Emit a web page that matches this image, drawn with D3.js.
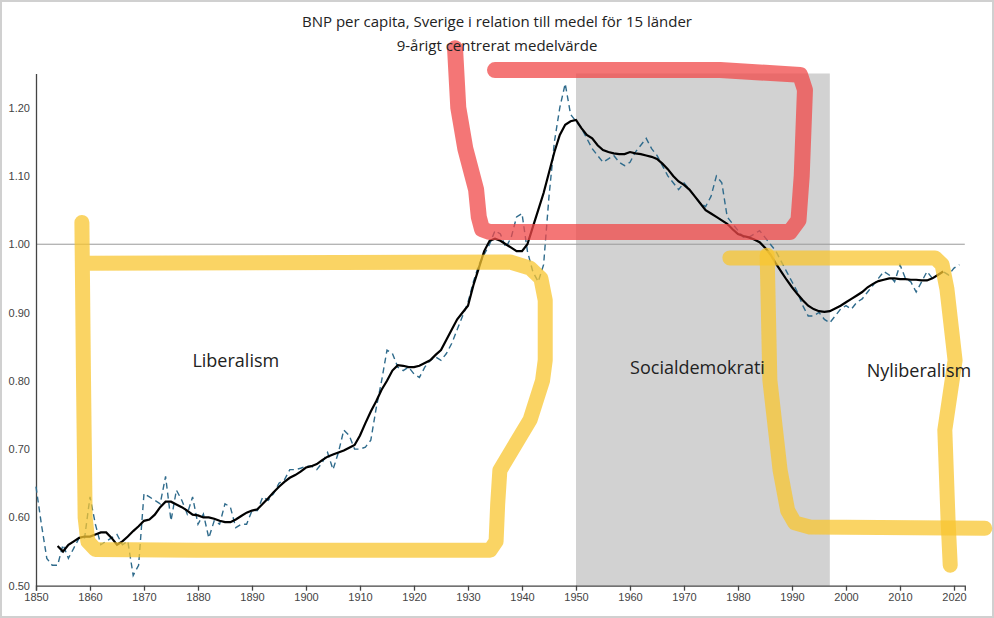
<!DOCTYPE html>
<html><head><meta charset="utf-8">
<script src="https://cdn.jsdelivr.net/npm/d3@7"></script>
<style>body{margin:0;background:#fff}svg{font-family:"Open Sans",Arial,sans-serif}</style>
</head><body><div id="container"></div>
<script>
// yearly values (dashed) 1850-2021
var rawStart = 1850;
var rawValues = [0.645,0.59,0.54,0.53,0.53,0.56,0.54,0.555,0.57,0.57,
 0.63,0.59,0.56,0.565,0.57,0.575,0.56,0.565,0.515,0.53,
 0.635,0.63,0.625,0.62,0.66,0.595,0.64,0.625,0.605,0.63,
 0.59,0.605,0.57,0.595,0.59,0.62,0.615,0.585,0.59,0.59,
 0.61,0.61,0.63,0.625,0.635,0.65,0.655,0.67,0.67,0.672,
 0.675,0.675,0.67,0.68,0.695,0.67,0.695,0.728,0.72,0.70,
 0.70,0.703,0.713,0.76,0.80,0.845,0.84,0.82,0.815,0.82,
 0.81,0.805,0.82,0.83,0.835,0.83,0.84,0.855,0.875,0.895,
 0.915,0.945,0.97,0.985,1.0,1.02,1.015,0.995,1.01,1.04,
 1.045,0.99,0.96,0.945,0.97,1.07,1.15,1.2,1.235,1.19,
 1.18,1.17,1.155,1.14,1.13,1.12,1.125,1.13,1.12,1.115,
 1.12,1.135,1.145,1.155,1.14,1.13,1.115,1.10,1.09,1.08,
 1.09,1.08,1.07,1.06,1.055,1.07,1.10,1.09,1.04,1.03,
 1.02,1.01,1.01,1.015,1.02,1.01,1.0,0.99,0.975,0.96,
 0.945,0.93,0.91,0.895,0.895,0.9,0.89,0.885,0.895,0.905,
 0.91,0.905,0.915,0.92,0.93,0.94,0.95,0.96,0.955,0.945,
 0.97,0.95,0.945,0.93,0.945,0.96,0.95,0.955,0.96,0.955,
 0.965,0.97];
// 9-year centred mean 1854-2018
var smoothStart = 1854;
var smoothValues = [0.558,0.55,0.56,0.565,0.57,0.572,
 0.572,0.575,0.578,0.578,0.57,0.56,0.565,0.572,0.58,0.587,
 0.595,0.597,0.604,0.615,0.623,0.623,0.619,0.615,0.61,0.604,
 0.603,0.6,0.6,0.598,0.595,0.593,0.593,0.597,0.602,0.607,
 0.61,0.612,0.62,0.628,0.637,0.645,0.652,0.658,0.662,0.667,
 0.673,0.675,0.678,0.684,0.689,0.692,0.695,0.698,0.702,0.706,
 0.72,0.738,0.755,0.77,0.787,0.8,0.815,0.823,0.822,0.82,
 0.82,0.822,0.826,0.83,0.838,0.845,0.86,0.875,0.89,0.9,
 0.91,0.94,0.965,0.99,1.005,1.008,1.005,1.0,0.995,0.99,
 0.99,1.0,1.025,1.05,1.075,1.105,1.135,1.16,1.175,1.18,
 1.182,1.17,1.16,1.155,1.145,1.138,1.135,1.133,1.132,1.132,
 1.135,1.133,1.132,1.13,1.128,1.125,1.118,1.11,1.1,1.092,
 1.087,1.08,1.07,1.06,1.05,1.045,1.04,1.035,1.03,1.022,
 1.015,1.012,1.01,1.007,1.003,0.995,0.985,0.972,0.96,0.948,
 0.937,0.927,0.918,0.91,0.905,0.902,0.901,0.902,0.906,0.91,
 0.915,0.92,0.925,0.93,0.937,0.942,0.946,0.948,0.95,0.95,
 0.949,0.949,0.948,0.948,0.947,0.947,0.95,0.955,0.96];
var xTicks = d3.range(1850, 2021, 10);
var yTicks = [0.5,0.6,0.7,0.8,0.9,1.0,1.1,1.2];
var bandYears = [1950, 1997];
var periodLabels = [
 {text: "Liberalism", year: 1887, value: 0.82},
 {text: "Socialdemokrati", year: 1972.5, value: 0.81},
 {text: "Nyliberalism", year: 2013.5, value: 0.805}];
// hand-drawn markings, in (year, value)
var yellowStrokes = [
 [[1858.5,1.032],[1858.8,0.8],[1859.1,0.6],[1859.6,0.565],[1861,0.553],[1880,0.552],[1934.1,0.552],[1935.2,0.565],[1935.5,0.62],[1935.9,0.669],[1941.5,0.743],[1943.8,0.8],[1944.3,0.83],[1944.3,0.918],[1943.5,0.95],[1941.5,0.965],[1937.8,0.974],[1859.1,0.972]],
 [[1978.5,0.98],[2016.5,0.98],[2017.8,0.97],[2018.7,0.934],[2020.2,0.83],[2018.3,0.728],[2018.9,0.596],[2019.3,0.53]],
 [[1985.4,0.984],[1985.9,0.801],[1987.8,0.669],[1989.2,0.61],[1990.5,0.592],[1993.3,0.586],[2025.7,0.584]]];
var redStrokes = [
 [[1927.6,1.287],[1928.2,1.2],[1929.5,1.14],[1931.5,1.08],[1932,1.04],[1932.6,1.022],[1934,1.018],[1989.6,1.018],[1991.2,1.035],[1991.8,1.1],[1992.4,1.226],[1991.5,1.248],[1976.7,1.255],[1935,1.255]]];

var W = 994, H = 618;
var svg = d3.select("#container").append("svg").attr("width", W).attr("height", H);
svg.append("rect").attr("x",1).attr("y",1).attr("width",W-2).attr("height",H-2)
 .style("fill","none").style("stroke","#d0d0d0").style("stroke-width",2);

var x = d3.scaleLinear().domain([1850, 2022]).range([36, 964.8]);
var y = d3.scaleLinear().domain([0.5, 1.25]).range([585.7, 73.5]);

svg.append("rect").attr("x", x(bandYears[0])).attr("y", y(1.25))
 .attr("width", x(bandYears[1]) - x(bandYears[0])).attr("height", y(0.5) - y(1.25))
 .style("fill", "#d2d2d2");

svg.append("line").attr("x1", x(1850)).attr("x2", x(2022)).attr("y1", y(1)).attr("y2", y(1))
 .style("stroke", "#999").style("stroke-width", 1);

var xAxis = svg.append("g").attr("transform", "translate(0," + y(0.5) + ")")
 .call(d3.axisBottom(x).tickValues(xTicks).tickFormat(d3.format("d")).tickSizeOuter(0).tickSize(5));
var yAxis = svg.append("g").attr("transform", "translate(" + x(1850) + ",0)")
 .call(d3.axisLeft(y).tickValues(yTicks).tickFormat(d3.format(".2f")).tickSize(0).tickSizeOuter(0));
[xAxis, yAxis].forEach(function(a){
 a.selectAll("path,line").style("stroke","#444").style("stroke-width",1.3);
 a.selectAll("text").style("font-size","11px").style("fill","#444");
});
yAxis.selectAll("text").attr("dx", "-3");

var rawLine = d3.line().x(function(d,i){return x(rawStart+i);}).y(function(d){return y(d);});
var smoothLine = d3.line().x(function(d,i){return x(smoothStart+i);}).y(function(d){return y(d);});
svg.append("path").datum(rawValues).attr("d", rawLine)
 .style("fill","none").style("stroke","#2f6b8c").style("stroke-width",1.4).style("stroke-dasharray","6,4");
svg.append("path").datum(smoothValues).attr("d", smoothLine)
 .style("fill","none").style("stroke","#000").style("stroke-width",2.2);

var penLin = d3.line().x(function(d){return x(d[0]);}).y(function(d){return y(d[1]);});
svg.selectAll(".yellow").data(yellowStrokes).enter().append("path").attr("d", penLin)
 .style("fill","none").style("stroke","#f8c630").style("stroke-opacity",0.75)
 .style("stroke-width",15).style("stroke-linecap","round").style("stroke-linejoin","round");
svg.selectAll(".red").data(redStrokes).enter().append("path").attr("d", penLin)
 .style("fill","none").style("stroke","#f04848").style("stroke-opacity",0.75)
 .style("stroke-width",16).style("stroke-linecap","round").style("stroke-linejoin","round");

svg.selectAll(".plabel").data(periodLabels).enter().append("text")
 .attr("x", function(d){return x(d.year);}).attr("y", function(d){return y(d.value);})
 .attr("text-anchor","middle").style("font-size","18px").style("fill","#222")
 .text(function(d){return d.text;});

svg.append("text").attr("x", 497).attr("y", 27).attr("text-anchor","middle")
 .style("font-size","15px").style("fill","#222").text("BNP per capita, Sverige i relation till medel för 15 länder");
svg.append("text").attr("x", 497).attr("y", 51).attr("text-anchor","middle")
 .style("font-size","15px").style("fill","#222").text("9-årigt centrerat medelvärde");
</script></body></html>
